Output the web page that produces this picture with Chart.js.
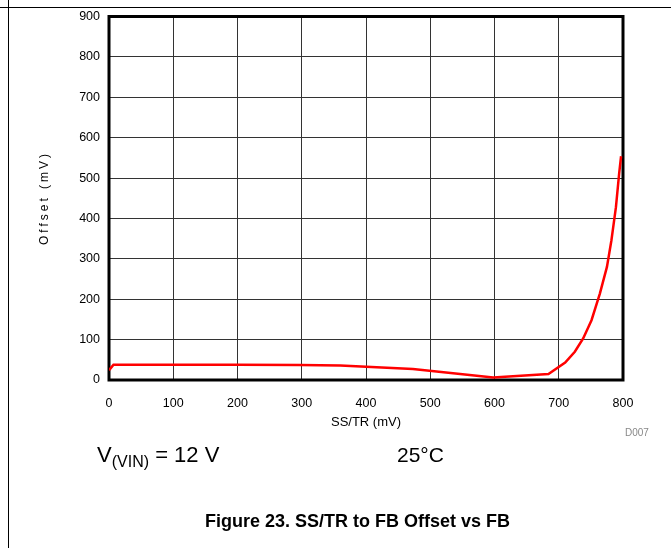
<!DOCTYPE html>
<html>
<head>
<meta charset="utf-8">
<script src="https://cdn.jsdelivr.net/npm/chart.js@4/dist/chart.umd.min.js"></script>
<style>
    html, body { margin: 0; padding: 0; background: #fff; }
    body { width: 671px; height: 548px; position: relative; overflow: hidden; font-family: "Liberation Sans", Arial, sans-serif; }
    #chart { position: absolute; left: 0; top: 0; }
    .rule-h { position: absolute; left: 0; top: 7px; width: 671px; height: 0; border-top: 1px solid #000; }
    .rule-v { position: absolute; left: 8px; top: 0; width: 0; height: 548px; border-left: 1px solid #000; }
    .note { position: absolute; color: #000; white-space: nowrap; }
    .note sub { font-size: 16px; vertical-align: -5px; line-height: 0; }
</style>
</head>
<body>
<div class="rule-h"></div>
<div class="rule-v"></div>
<canvas id="chart" width="671" height="548"></canvas>
<div class="note" style="left:97px; top:442px; font-size:22px;">V<sub>(VIN)</sub> = 12 V</div>
<div class="note" style="left:397px; top:443px; font-size:21px;">25°C</div>
<div class="note" style="left:0; width:715px; top:511px; text-align:center; font-size:18px; font-weight:bold;">Figure 23. SS/TR to FB Offset vs FB</div>
<div class="note" style="left:625px; top:427px; font-size:10px; color:#888;">D007</div>
<script>
// Curve
const ssTr = [0, 3, 7, 100, 200, 297, 360, 473, 598, 684, 710, 725, 738, 751, 764, 775, 782, 789, 794, 797];
const offset = [24, 30, 38, 38, 38, 37, 36, 27, 6, 15, 43, 70, 103, 148, 214, 280, 346, 428, 511, 554];

const xTicks = [0, 100, 200, 300, 400, 500, 600, 700, 800];
const yTicks = [0, 100, 200, 300, 400, 500, 600, 700, 800, 900];

// Frame around the plot area
const framePlugin = {
    id: 'frame',
    beforeDatasetsDraw(chart) {
        const { ctx, chartArea: a } = chart;
        ctx.save();
        ctx.strokeStyle = '#000';
        ctx.lineWidth = 3;
        ctx.strokeRect(a.left, a.top, a.right - a.left, a.bottom - a.top);
        ctx.restore();
    }
};

// Y title with wide letter spacing
const yTitlePlugin = {
    id: 'yTitle',
    afterDraw(chart) {
        const { ctx } = chart;
        ctx.save();
        ctx.translate(45, 198);
        ctx.rotate(-Math.PI / 2);
        ctx.font = '12px "Liberation Sans", Arial, sans-serif';
        ctx.letterSpacing = '3px';
        ctx.fillStyle = '#000';
        ctx.textAlign = 'center';
        ctx.textBaseline = 'middle';
        ctx.fillText('Offset (mV)', 0, 0);
        ctx.restore();
    }
};

const ctx = document.getElementById('chart').getContext('2d');
new Chart(ctx, {
    type: 'line',
    data: {
        datasets: [{
            data: ssTr.map((x, i) => ({ x: x, y: offset[i] })),
            borderColor: '#ff0000',
            borderWidth: 2.5,
            pointRadius: 0,
            tension: 0,
            fill: false
        }]
    },
    options: {
        responsive: false,
        animation: false,
        devicePixelRatio: 1,
        layout: { padding: { left: 49, right: 48, top: 16, bottom: 118 } },
        plugins: {
            legend: { display: false },
            tooltip: { enabled: false }
        },
        scales: {
            x: {
                type: 'linear',
                min: 0,
                max: 800,
                afterFit(scale) { scale.height = 50; },
                afterBuildTicks(scale) { scale.ticks = xTicks.map(v => ({ value: v })); },
                grid: { color: '#333', lineWidth: 1, drawTicks: false },
                border: { display: false },
                ticks: {
                    color: '#000',
                    padding: 16,
                    font: { family: '"Liberation Sans", Arial, sans-serif', size: 12.5 }
                },
                title: {
                    display: true,
                    text: 'SS/TR (mV)',
                    color: '#000',
                    padding: { top: 3, bottom: 0 },
                    font: { family: '"Liberation Sans", Arial, sans-serif', size: 13 }
                }
            },
            y: {
                type: 'linear',
                min: 0,
                max: 900,
                afterFit(scale) { scale.width = 60; },
                afterBuildTicks(scale) { scale.ticks = yTicks.map(v => ({ value: v })); },
                grid: { color: '#333', lineWidth: 1, drawTicks: false },
                border: { display: false },
                ticks: {
                    color: '#000',
                    padding: 9,
                    font: { family: '"Liberation Sans", Arial, sans-serif', size: 12.5 }
                }
            }
        }
    },
    plugins: [framePlugin, yTitlePlugin]
});
</script>
</body>
</html>
